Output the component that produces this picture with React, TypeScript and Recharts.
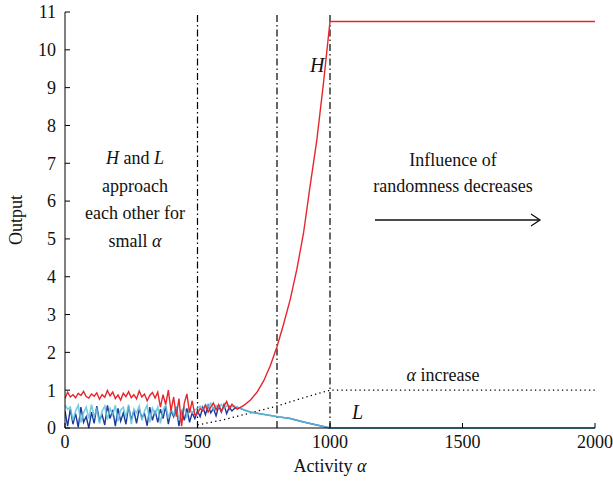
import React from 'react'
import { LineChart, Line, XAxis, YAxis, ReferenceLine } from 'recharts'

// noisy part, sampled every 10 from 0 to 640
const noiseX = Array.from({ length: 65 }, (_, i) => i * 10)

const redNoise = [
  0.78, 0.95, 0.82, 0.88, 0.8, 0.92, 0.86, 0.97, 0.83, 0.79, 0.9, 0.84, 0.93, 0.76, 0.88, 0.81, 0.99, 0.85,
  0.95, 0.78, 0.87, 0.74, 0.92, 0.83, 0.96, 0.8, 0.88, 0.77, 0.98, 0.82, 0.9, 0.72, 0.86, 0.94, 0.79,
  0.95, 0.55, 0.88, 0.62, 1.0, 0.45, 0.82, 0.3, 0.78, 0.05, 0.65, 0.9, 0.4, 0.72, 0.35,
  0.38, 0.52, 0.45, 0.6, 0.42, 0.55, 0.66, 0.48, 0.62, 0.44, 0.58, 0.7, 0.5, 0.63, 0.55,
]
const blueNoise = [
  0.45, 0.05, 0.5, 0.1, 0.38, 0.02, 0.55, 0.15, 0.3, 0.0, 0.42, 0.12, 0.58, 0.2, 0.35, 0.08, 0.6, 0.25,
  0.48, 0.05, 0.52, 0.18, 0.4, 0.1, 0.57, 0.22, 0.45, 0.12, 0.5, 0.28, 0.38, 0.06, 0.55, 0.2, 0.46,
  0.15, 0.5, 0.25, 0.58, 0.1, 0.45, 0.3, 0.55, 0.05, 0.48, 0.2, 0.52, 0.15, 0.4, 0.25,
  0.45, 0.3, 0.55, 0.35, 0.6, 0.4, 0.52, 0.32, 0.58, 0.42, 0.62, 0.38, 0.55, 0.45, 0.52,
]
const cyanNoise = [
  0.6, 0.5, 0.55, 0.2, 0.45, 0.6, 0.15, 0.4, 0.55, 0.25, 0.62, 0.3, 0.5, 0.12, 0.45, 0.58, 0.22, 0.52,
  0.35, 0.6, 0.18, 0.48, 0.55, 0.28, 0.62, 0.1, 0.5, 0.4, 0.58, 0.2, 0.45, 0.6, 0.15, 0.52, 0.38,
  0.55, 0.12, 0.48, 0.6, 0.25, 0.5, 0.35, 0.58, 0.2, 0.45, 0.55, 0.3, 0.5, 0.4, 0.48,
  0.52, 0.58, 0.48, 0.62, 0.55, 0.65, 0.5, 0.6, 0.55, 0.62, 0.52, 0.58, 0.6, 0.56, 0.58,
]

// H rises after the noisy part, then saturates
const hCurveX = [650, 675, 700, 725, 750, 775, 800, 825, 850, 875, 900, 925, 950, 975, 1000, 2000]
const hCurveY = [0.5, 0.6, 0.74, 0.95, 1.25, 1.65, 2.15, 2.75, 3.4, 4.2, 5.15, 6.4, 7.6, 9.1, 10.75, 10.75]

// L decays to zero
const lCurveX = [650, 675, 700, 750, 800, 850, 900, 950, 1000, 2000]
const lCurveY = [0.55, 0.48, 0.42, 0.36, 0.3, 0.25, 0.16, 0.08, 0.0, 0.0]

// alpha (dotted)
const alphaX = [500, 600, 700, 800, 900, 1000, 2000]
const alphaY = [0.08, 0.22, 0.4, 0.58, 0.8, 1.0, 1.0]

const xTicks = [0, 500, 1000, 1500, 2000]
const yTicks = [0, 1, 2, 3, 4, 5, 6, 7, 8, 9, 10, 11]
const markers = [500, 800, 1000]

const zip = (xs: number[], ys: number[]) => xs.map((x, i) => ({ x, y: ys[i] }))

const redData = [...zip(noiseX, redNoise), ...zip(hCurveX, hCurveY)]
const blueData = [...zip(noiseX, blueNoise), ...zip(lCurveX, lCurveY)]
const cyanData = [...zip(noiseX, cyanNoise), ...zip(lCurveX, lCurveY)]
const alphaData = zip(alphaX, alphaY)

const font = "'Times New Roman', 'Liberation Serif', Tinos, 'DejaVu Serif', 'Noto Serif', serif"
const tickStyle = { fill: '#111', fontSize: 18, fontFamily: font }

export default function App() {
  return (
    <div style={{ position: 'absolute', left: 0, top: 0, width: 613, height: 492, background: '#fff', fontFamily: font }}>
      <LineChart width={613} height={492} margin={{ top: 12, right: 18, bottom: 34, left: 15 }}>
        <XAxis
          xAxisId="b"
          dataKey="x"
          type="number"
          domain={[0, 2000]}
          ticks={xTicks}
          allowDataOverflow
          stroke="#000"
          tickSize={-5}
          tickMargin={12}
          height={30}
          tick={tickStyle}
        />
        <XAxis
          xAxisId="t"
          orientation="top"
          dataKey="x"
          type="number"
          domain={[0, 2000]}
          ticks={xTicks}
          stroke="#000"
          tickSize={-5}
          height={0}
          tickFormatter={() => ''}
        />
        <YAxis
          yAxisId="l"
          type="number"
          domain={[0, 11]}
          ticks={yTicks}
          interval={0}
          stroke="#000"
          tickSize={-5}
          tickMargin={14}
          width={50}
          tick={tickStyle}
        />
        <YAxis
          yAxisId="r"
          orientation="right"
          type="number"
          domain={[0, 11]}
          ticks={yTicks}
          interval={0}
          stroke="#000"
          tickSize={-5}
          width={0}
          tickFormatter={() => ''}
        />
        {markers.map((m) => (
          <ReferenceLine
            key={m}
            x={m}
            xAxisId="b"
            yAxisId="l"
            stroke="#000"
            strokeWidth={1.2}
            strokeDasharray="7 3 1.5 3"
          />
        ))}
        <Line
          data={alphaData}
          xAxisId="b"
          yAxisId="l"
          dataKey="y"
          stroke="#000"
          strokeWidth={1.3}
          strokeDasharray="1.3 3.2"
          dot={false}
          isAnimationActive={false}
        />
        <Line
          data={blueData}
          xAxisId="b"
          yAxisId="l"
          dataKey="y"
          stroke="#1c3a9e"
          strokeWidth={1.4}
          dot={false}
          isAnimationActive={false}
        />
        <Line
          data={cyanData}
          xAxisId="b"
          yAxisId="l"
          dataKey="y"
          stroke="#5fc3d8"
          strokeOpacity={0.85}
          strokeWidth={1.6}
          dot={false}
          isAnimationActive={false}
        />
        <Line
          data={redData}
          xAxisId="b"
          yAxisId="l"
          dataKey="y"
          stroke="#e8252d"
          strokeWidth={1.4}
          dot={false}
          isAnimationActive={false}
        />
      </LineChart>
      <svg
        width={613}
        height={492}
        style={{ position: 'absolute', left: 0, top: 0, pointerEvents: 'none', fontFamily: font }}
        fill="#111"
      >
        <text x={18} y={220} fontSize={18} textAnchor="middle" dominantBaseline="middle" transform="rotate(-90 18 220)">
          Output
        </text>
        <text x={330} y={472} fontSize={18} textAnchor="middle">
          Activity <tspan fontStyle="italic">α</tspan>
        </text>
        <g fontSize={18} textAnchor="middle">
          <text x={135} y={164}>
            <tspan fontStyle="italic">H</tspan> and <tspan fontStyle="italic">L</tspan>
          </text>
          <text x={135} y={192}>approach</text>
          <text x={135} y={219}>each other for</text>
          <text x={135} y={247}>
            small <tspan fontStyle="italic">α</tspan>
          </text>
          <text x={453} y={166}>Influence of</text>
          <text x={453} y={192}>randomness decreases</text>
          <text x={443} y={381}>
            <tspan fontStyle="italic">α</tspan> increase
          </text>
        </g>
        <text x={310} y={72} fontSize={20} fontStyle="italic">
          H
        </text>
        <text x={352} y={419} fontSize={20} fontStyle="italic">
          L
        </text>
        <line x1={375} y1={220} x2={540} y2={220} stroke="#111" strokeWidth={1.3} />
        <polyline points="531,214 540,220 531,226" fill="none" stroke="#111" strokeWidth={1.3} />
      </svg>
    </div>
  )
}
